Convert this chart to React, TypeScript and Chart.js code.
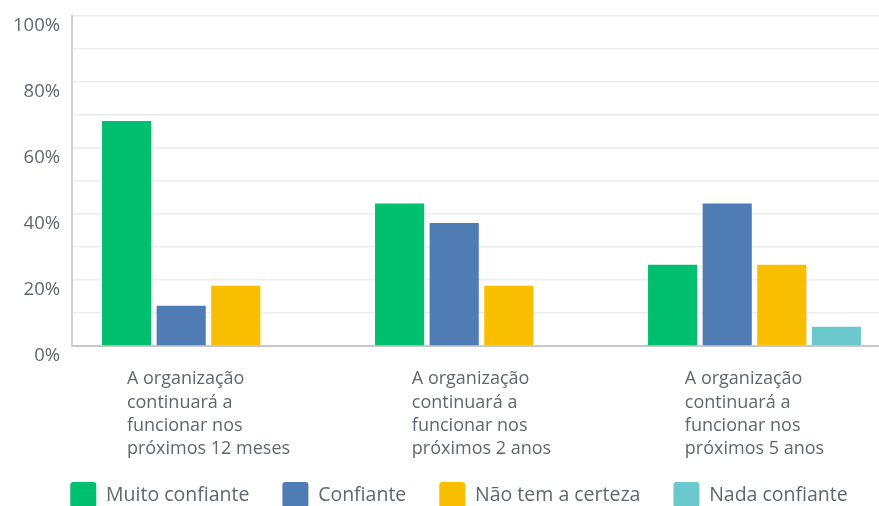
import React, { useEffect, useRef } from "react";
import { Chart, registerables } from "chart.js";

Chart.register(...registerables);

const categories: string[][] = [
  ["A organização", "continuará a", "funcionar nos", "próximos 12 meses"],
  ["A organização", "continuará a", "funcionar nos", "próximos 2 anos"],
  ["A organização", "continuará a", "funcionar nos", "próximos 5 anos"],
];
const seriesNames = ["Muito confiante", "Confiante", "Não tem a certeza", "Nada confiante"];
const muitoConfiante = [68.1, 43.1, 24.6];
const confiante = [12.2, 37.2, 43.1];
const naoTemCerteza = [18.2, 18.2, 24.6];
const nadaConfiante: (number | null)[] = [null, null, 5.8];
const colors = ["#00BF6F", "#507CB6", "#F9BE00", "#6BC8CD"];
const yTicks = [0, 20, 40, 60, 80, 100];

const FONT = "'Open Sans', sans-serif";
const TEXT = "#5f6770";

const leftLabels = {
  id: "leftLabels",
  afterLayout(chart: any) {
    if (chart.legend) {
      chart.legend.left += 13.5;
      chart.legend.right += 13.5;
    }
  },
  afterDraw(chart: any) {
    const ctx = chart.ctx;
    const xs = chart.scales.x;
    ctx.save();
    ctx.font = `18px ${FONT}`;
    ctx.fillStyle = TEXT;
    ctx.textBaseline = "middle";
    ctx.textAlign = "left";
    categories.forEach((lines, i) => {
      const cx = xs.getPixelForValue(i);
      const w = Math.max(...lines.map((l) => ctx.measureText(l).width));
      const x0 = cx - w / 2;
      lines.forEach((l, j) => {
        ctx.fillText(l, x0, xs.top + 33 + j * 23.4);
      });
    });
    ctx.restore();
  },
};

export default function App() {
  const ref = useRef<HTMLCanvasElement>(null);
  useEffect(() => {
    document.body.style.margin = "0";
    document.body.style.overflow = "hidden";
    const data = [muitoConfiante, confiante, naoTemCerteza, nadaConfiante];
    const chart = new Chart(ref.current!, {
      type: "bar",
      data: {
        labels: categories.map((c) => c.join(" ")),
        datasets: seriesNames.map((n, i) => ({
          label: n,
          data: data[i],
          backgroundColor: colors[i],
          borderColor: colors[i],
          borderWidth: 0,
          barPercentage: 0.9,
          categoryPercentage: 0.8,
        })),
      },
      options: {
        animation: false,
        responsive: false,
        maintainAspectRatio: false,
        layout: { padding: { top: 15.5, right: 0, left: 0, bottom: 0 } },
        plugins: {
          tooltip: { enabled: false },
          legend: {
            position: "bottom",
            labels: {
              boxWidth: 26,
              boxHeight: 26,
              useBorderRadius: true,
              borderRadius: 3,
              padding: 33,
              color: TEXT,
              font: { family: FONT, size: 19.5 },
            },
          },
        },
        scales: {
          x: {
            grid: { display: false },
            border: { color: "#c8c8c8", width: 2 },
            ticks: {
              maxRotation: 0,
              autoSkip: false,
              callback: () => "",
            },
            afterFit(scale: any) {
              scale.height = 103;
            },
          },
          y: {
            min: 0,
            max: 100,
            grid: { color: "#ececec", lineWidth: 1.5, drawTicks: false },
            border: { color: "#d0d0d0", width: 2 },
            ticks: {
              stepSize: 10,
              padding: 12,
              labelOffset: 10,
              color: TEXT,
              font: { family: FONT, size: 18.5 },
              callback: (v: any) => (yTicks.includes(Number(v)) ? `${v}%` : ""),
            },
            afterFit(scale: any) {
              scale.width = 72;
              scale.paddingTop = 0;
              scale.paddingBottom = 0;
            },
          },
        },
      },
      plugins: [leftLabels],
    });
    return () => chart.destroy();
  }, []);
  return <canvas ref={ref} width={891} height={518} style={{ display: "block" }} />;
}
